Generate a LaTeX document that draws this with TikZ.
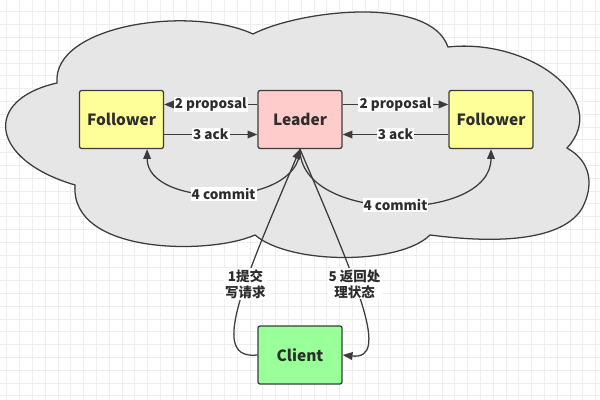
\documentclass[tikz,border=0pt]{standalone}
\usepackage{fontspec}
\setmainfont{Noto Sans CJK SC}
\usetikzlibrary{arrows.meta}
\definecolor{NoteYellow}{RGB}{255,255,153}
\definecolor{NotePink}{RGB}{255,204,204}
\definecolor{NoteGreen}{RGB}{153,255,153}
\definecolor{CloudGray}{RGB}{230,230,230}
\definecolor{InkGray}{RGB}{60,60,60}
\definecolor{TextGray}{RGB}{45,45,45}
\definecolor{GridGray}{RGB}{238,238,238}
\tikzset{
  role/.style={draw=InkGray,line width=0.9pt,rounded corners=1.5pt,minimum width=2.1cm,
    minimum height=1.45cm,text=TextGray,font=\fontsize{11}{14}\selectfont\bfseries},
  msg/.style={draw=InkGray,line width=0.9pt,-{Triangle[length=7pt,width=5.5pt]}},
  tag/.style={fill=white,inner sep=0.8pt,text=TextGray,align=center,
    font=\fontsize{9.6}{11.4}\selectfont\bfseries},
  cloudline/.style={draw=InkGray,fill=CloudGray,line width=0.9pt},
  gridline/.style={draw=GridGray,line width=0.5pt},
}

\begin{document}
\begin{tikzpicture}[x=0.025cm,y=0.025cm]
\useasboundingbox (0,0) rectangle (600,400);
\fill[white] (0,0) rectangle (600,400);
% background grid
\foreach \gx in {0,...,46} \draw[gridline] ({6.7+12.8*\gx},0) -- ({6.7+12.8*\gx},400);
\foreach \gy in {0,...,30} \draw[gridline] (0,{388.3-12.8*\gy}) -- (600,{388.3-12.8*\gy});
% cluster cloud
\draw[cloudline] (75,215) .. controls (-10,240) and (-18,300) .. (57,317)
  .. controls (52,375) and (190,395) .. (253,366)
  .. controls (300,390) and (430,405) .. (448,353)
  .. controls (530,362) and (612,300) .. (567,252)
  .. controls (592,238) and (592,215) .. (585,198)
  .. controls (575,170) and (530,152) .. (430,165)
  .. controls (400,135) and (290,135) .. (255,165)
  .. controls (210,145) and (70,145) .. cycle;
% servers
\node[role,fill=NoteYellow] (fol1) at (121.5,280.5) {Follower};
\node[role,fill=NotePink] (lead) at (300,280.5) {Leader};
\node[role,fill=NoteYellow] (fol2) at (491,280.5) {Follower};
\node[role,fill=NoteGreen] (cli) at (300,45) {Client};
% messages
\draw[msg] ([yshift=0.375cm]lead.west) -- node[tag]{2 proposal} ([yshift=0.375cm]fol1.east);
\draw[msg] ([yshift=-0.375cm]fol1.east) -- node[tag]{3 ack} ([yshift=-0.375cm]lead.west);
\draw[msg] ([yshift=0.375cm]lead.east) -- node[tag]{2 proposal} ([yshift=0.375cm]fol2.west);
\draw[msg] ([yshift=-0.375cm]fol2.west) -- node[tag]{3 ack} ([yshift=-0.375cm]lead.east);
\draw[msg] (lead.south) to[out=-90,in=-90] node[tag]{4 commit} ([xshift=0.64cm]fol1.south);
\draw[msg] (lead.south) to[out=-90,in=-90] node[tag]{4 commit} (fol2.south);
\draw[msg] (cli.west) .. controls (210,40) and (240,110) .. (lead.south)
  node[tag,pos=0.6]{1提交\\写请求};
\draw[msg] (lead.south) .. controls (360,110) and (390,40) .. (cli.east)
  node[tag,pos=0.4]{5 返回处\\理状态};
\end{tikzpicture}
\end{document}
